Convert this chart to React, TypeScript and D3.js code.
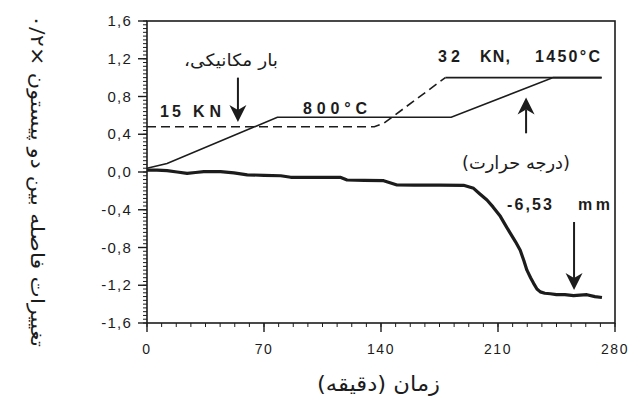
import React from "react";
import * as d3 from "d3";

// ---- data ----
const yTicks = [-1.6, -1.2, -0.8, -0.4, 0.0, 0.4, 0.8, 1.2, 1.6];
const yTickLabels = ["-1,6", "-1,2", "-0,8", "-0,4", "0,0", "0,4", "0,8", "1,2", "1,6"];
const xTicks = [0, 70, 140, 210, 280];

// temperature (solid)
const tempT = [0, 12, 78, 182, 243, 272];
const tempV = [0.04, 0.09, 0.58, 0.58, 1.0, 1.0];

// mechanical load (dashed then solid)
const loadT = [0, 136, 141.6, 178.5, 272];
const loadV = [0.48, 0.48, 0.515, 1.0, 1.0];
const loadDashEnd = 178.5;

// displacement (thick)
const dispT = [0, 6, 12, 18, 24, 29, 34, 44, 52, 60, 70, 80, 86, 100, 115.6, 119.7, 130, 141.6, 149.6, 160, 175, 189.4, 195.4, 199, 203.4, 207, 211.4, 214, 217.4, 220.5, 223.3, 225.5, 227.3, 229.5, 231.3, 233.3, 235.3, 238, 241.3, 245, 250, 255.2, 259, 263.2, 268, 272.2];
const dispV = [0.02, 0.02, 0.014, 0.0, -0.014, -0.005, 0.003, 0.003, -0.01, -0.03, -0.035, -0.04, -0.056, -0.056, -0.056, -0.085, -0.088, -0.092, -0.138, -0.14, -0.14, -0.141, -0.173, -0.23, -0.297, -0.37, -0.47, -0.55, -0.65, -0.74, -0.83, -0.94, -1.04, -1.12, -1.18, -1.24, -1.27, -1.285, -1.29, -1.3, -1.3, -1.31, -1.305, -1.3, -1.32, -1.33];

// annotation arrows (in data units): [t, vFrom, vTo]
const arrowLoad = [54.4, 1.0, 0.53];
const arrowTemp = [226.8, 0.41, 0.79];
const arrowMM = [255.5, -0.53, -1.25];

const W = 632;
const H = 411;
const x = d3.scaleLinear().domain([0, 280]).range([147, 615]);
const y = d3.scaleLinear().domain([-1.6, 1.6]).range([323, 21]);

const INK = "#1c1c1c";
const LATIN = "'Liberation Sans', Arial, sans-serif";
const FA = "'DejaVu Sans', 'Liberation Sans', sans-serif";

function Arrow({ spec }: { spec: number[] }) {
  const [t, v0, v1] = spec;
  const px = x(t);
  const y0 = y(v0);
  const y1 = y(v1);
  const dir = y1 > y0 ? 1 : -1;
  const headLen = 17;
  const headW = 8.5;
  const notch = 5;
  const base = y1 - dir * headLen;
  const head = `M${px},${y1} L${px - headW},${base} L${px},${base + dir * notch} L${px + headW},${base} Z`;
  return (
    <g>
      <line x1={px} y1={y0} x2={px} y2={base + dir * notch} stroke={INK} strokeWidth={2} />
      <path d={head} fill={INK} />
    </g>
  );
}

function Bold({ x0, y0, w, children }: { x0: number; y0: number; w: number; children: string }) {
  return (
    <text x={x0} y={y0} fontFamily={LATIN} fontSize={16} fontWeight="bold" fill={INK} textLength={w} lengthAdjust="spacing">
      {children}
    </text>
  );
}

export default function App() {
  const line = d3
    .line<[number, number]>()
    .x((d) => x(d[0]))
    .y((d) => y(d[1]));

  const tempPts = tempT.map((t, i) => [t, tempV[i]] as [number, number]);
  const loadPts = loadT.map((t, i) => [t, loadV[i]] as [number, number]);
  const loadDashed = loadPts.filter((p) => p[0] <= loadDashEnd);
  const loadSolid = loadPts.filter((p) => p[0] >= loadDashEnd);
  const dispPts = dispT.map((t, i) => [t, dispV[i]] as [number, number]);

  const yMinor = d3.range(-1.6, 1.6001, 0.04);
  const xMinor = d3.range(0, 280.001, 8.75);

  return (
    <svg
      width={W}
      height={H}
      style={{ position: "absolute", left: 0, top: 0, background: "#fff" }}
    >
      {/* frame */}
      <rect x={x(0)} y={y(1.6)} width={x(280) - x(0)} height={y(-1.6) - y(1.6)} fill="none" stroke={INK} strokeWidth={1.6} />

      {/* y minor ticks */}
      {yMinor.map((v, i) => (
        <line key={"ym" + i} x1={x(0) - 4} x2={x(0)} y1={y(v)} y2={y(v)} stroke={INK} strokeWidth={1} />
      ))}
      {yTicks.map((v, i) => (
        <g key={"yt" + i}>
          <line x1={x(0) - 9} x2={x(0)} y1={y(v)} y2={y(v)} stroke={INK} strokeWidth={1.4} />
          <text x={132} y={y(v) + 5} textAnchor="end" fontFamily={LATIN} fontSize={15} letterSpacing={1.2} fill={INK}>
            {yTickLabels[i]}
          </text>
        </g>
      ))}

      {/* x ticks */}
      {xMinor.map((t, i) => (
        <line key={"xm" + i} x1={x(t)} x2={x(t)} y1={y(-1.6)} y2={y(-1.6) + 4} stroke={INK} strokeWidth={1} />
      ))}
      {xTicks.map((t, i) => (
        <g key={"xt" + i}>
          <line x1={x(t)} x2={x(t)} y1={y(-1.6)} y2={y(-1.6) + 9} stroke={INK} strokeWidth={1.4} />
          <text x={x(t)} y={354} textAnchor="middle" fontFamily={LATIN} fontSize={14} letterSpacing={1.5} fill={INK}>
            {t}
          </text>
        </g>
      ))}

      {/* series */}
      <path d={line(tempPts) || ""} fill="none" stroke={INK} strokeWidth={1.6} />
      <path d={line(loadDashed) || ""} fill="none" stroke={INK} strokeWidth={1.6} strokeDasharray="9,5" />
      <path d={line(loadSolid) || ""} fill="none" stroke={INK} strokeWidth={1.6} />
      <path d={line(dispPts) || ""} fill="none" stroke={INK} strokeWidth={3.2} strokeLinejoin="round" />

      {/* arrows */}
      <Arrow spec={arrowLoad} />
      <Arrow spec={arrowTemp} />
      <Arrow spec={arrowMM} />

      {/* annotations */}
      <text x={184} y={66} fontFamily={FA} fontSize={17} fill={INK} direction="rtl" textAnchor="end" textLength={94} lengthAdjust="spacingAndGlyphs">
        بار مکانیکی،
      </text>
      <Bold x0={160} y0={117} w={21}>15</Bold>
      <Bold x0={193} y0={117} w={28}>KN</Bold>
      <text x={303} y={114} fontFamily={LATIN} fontSize={16} fontWeight="bold" fill={INK} textLength={64} lengthAdjust="spacing">
        800°C
      </text>
      <Bold x0={438} y0={62} w={22}>32</Bold>
      <Bold x0={480} y0={62} w={30}>KN,</Bold>
      <Bold x0={535} y0={62} w={65}>1450°C</Bold>
      <text x={462} y={169} fontFamily={FA} fontSize={18} fill={INK} direction="rtl" textAnchor="end" textLength={108} lengthAdjust="spacingAndGlyphs">
        (درجه حرارت)
      </text>
      <Bold x0={507} y0={210} w={45}>-6,53</Bold>
      <Bold x0={578} y0={210} w={32}>mm</Bold>

      {/* axis titles */}
      <text x={317} y={391} fontFamily={FA} fontSize={21} fill={INK} direction="rtl" textAnchor="end" textLength={123} lengthAdjust="spacingAndGlyphs">
        زمان (دقیقه)
      </text>
      <text
        transform={`translate(31,15) rotate(90)`}
        fontFamily={FA}
        fontSize={19}
        fill={INK}
        direction="rtl"
        textAnchor="end"
        textLength={332}
        lengthAdjust="spacingAndGlyphs"
      >
        تغییرات فاصله بین دو پیستون ×۰/۲
      </text>
    </svg>
  );
}
